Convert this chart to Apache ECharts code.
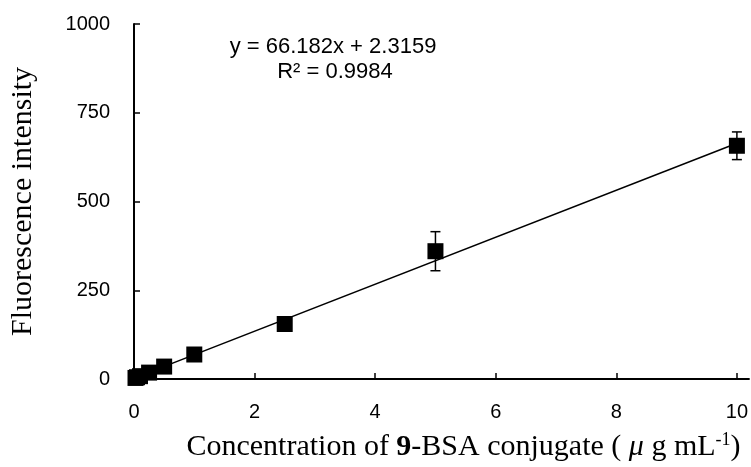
<!DOCTYPE html>
<html>
<head>
<meta charset="utf-8">
<script src="https://cdn.jsdelivr.net/npm/echarts@6/dist/echarts.min.js"></script>
<style>
    html, body { margin: 0; padding: 0; background: #fff; }
    #myChart { width: 751px; height: 467px; }
</style>
</head>
<body>
<div id="myChart"></div>
<script>
    // concentration (ug/mL) and mean fluorescence
    var concX = [0.025, 0.05, 0.1, 0.25, 0.5, 1, 2.5, 5, 10];
    var meanY = [3, 5, 8, 18, 35, 69, 155, 360, 657];
    var errY  = [2, 2, 3, 4, 5, 6, 8, 55, 39];

    // trendline end points (y = 66.182x + 2.3159)
    var trendX = [0.025, 10];
    var trendY = [4.0, 664.1];

    var xTicks = [0, 2, 4, 6, 8, 10];
    var yTicks = [0, 250, 500, 750, 1000];

    var eqText = 'y = 66.182x + 2.3159';
    var r2Text = 'R² = 0.9984';

    var sans = 'Liberation Sans, Arial, sans-serif';
    var serif = 'Liberation Serif, Times New Roman, serif';

    var points = concX.map(function (x, i) { return [x, meanY[i]] });
    var bars = concX.map(function (x, i) { return [x, meanY[i] - errY[i], meanY[i] + errY[i]] });

    var myChart = echarts.init(document.getElementById('myChart'));

    myChart.setOption({
        animation: false,
        backgroundColor: '#fff',
        grid: { left: 133, right: 0, top: 24, bottom: 87 },
        xAxis: {
            type: 'value',
            min: 0,
            max: 10.2,
            interval: 2,
            splitLine: { show: false },
            axisLine: { lineStyle: { color: '#000', width: 2 } },
            axisTick: { inside: true, length: 6, customValues: xTicks, lineStyle: { color: '#000', width: 1.5 } },
            axisLabel: { customValues: xTicks, margin: 23, color: '#000', fontSize: 20, fontFamily: sans },
            name: '{n|Concentration of }{b|9}{n|-BSA conjugate ( }{m|μ}{n| g mL}{s|-1}{n|)}',
            nameLocation: 'middle',
            nameGap: 52,
            nameTextStyle: {
                padding: [0, 0, 0, 44],
                rich: {
                    n: { fontFamily: serif, fontSize: 30, color: '#000', lineHeight: 32 },
                    b: { fontFamily: serif, fontSize: 30, fontWeight: 'bold', color: '#000', lineHeight: 32 },
                    m: { fontFamily: serif, fontSize: 30, fontStyle: 'italic', color: '#000', lineHeight: 32 },
                    s: { fontFamily: serif, fontSize: 18, color: '#000', lineHeight: 32, verticalAlign: 'top' }
                }
            }
        },
        yAxis: {
            type: 'value',
            min: 0,
            max: 1000,
            interval: 250,
            splitLine: { show: false },
            axisLine: { show: true, lineStyle: { color: '#000', width: 2 } },
            axisTick: { show: true, inside: true, length: 6, lineStyle: { color: '#000', width: 1.5 } },
            axisLabel: {
                customValues: yTicks, margin: 24, color: '#000', fontSize: 20, fontFamily: sans,
                formatter: function (v) { return String(v) }
            },
            name: 'Fluorescence intensity',
            nameLocation: 'middle',
            nameRotate: 90,
            nameGap: 96,
            nameTextStyle: { fontFamily: serif, fontSize: 30, color: '#000' }
        },
        graphic: [
            {
                type: 'text', x: 333, y: 36,
                style: { text: eqText, align: 'center', font: '22px ' + sans, fill: '#000' }
            },
            {
                type: 'text', x: 335, y: 61,
                style: { text: r2Text, align: 'center', font: '22px ' + sans, fill: '#000' }
            }
        ],
        series: [
            {
                // linear trendline
                type: 'line',
                data: [[trendX[0], trendY[0]], [trendX[1], trendY[1]]],
                showSymbol: false,
                lineStyle: { color: '#000', width: 1.5 },
                z: 2
            },
            {
                // error bars, drawn under the squares
                type: 'custom',
                data: bars,
                z: 3,
                renderItem: function (params, api) {
                    var x = api.value(0);
                    var top = api.coord([x, api.value(2)]);
                    var bot = api.coord([x, api.value(1)]);
                    var cap = 5;
                    var st = { stroke: '#000', lineWidth: 1.5 };
                    return {
                        type: 'group',
                        children: [
                            { type: 'line', shape: { x1: top[0], y1: top[1], x2: bot[0], y2: bot[1] }, style: st },
                            { type: 'line', shape: { x1: top[0] - cap, y1: top[1], x2: top[0] + cap, y2: top[1] }, style: st },
                            { type: 'line', shape: { x1: bot[0] - cap, y1: bot[1], x2: bot[0] + cap, y2: bot[1] }, style: st }
                        ]
                    };
                }
            },
            {
                type: 'scatter',
                data: points,
                symbol: 'rect',
                symbolSize: 16,
                itemStyle: { color: '#000', opacity: 1 },
                z: 4
            }
        ]
    });
</script>
</body>
</html>
